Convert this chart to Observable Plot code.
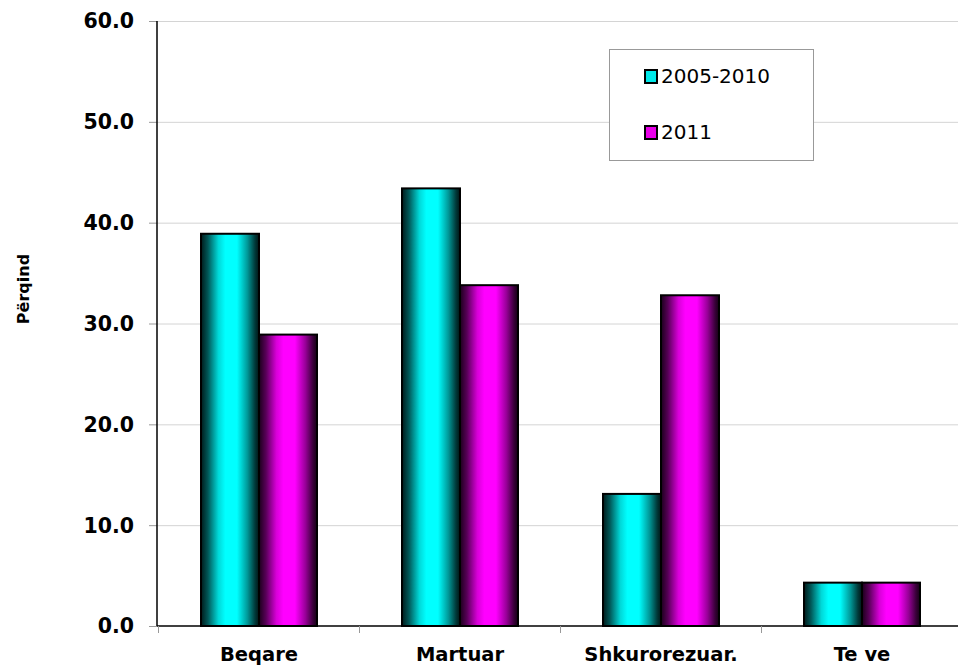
<!DOCTYPE html>
<html>
<head>
<meta charset="utf-8">
<script src="https://cdn.jsdelivr.net/npm/d3@7"></script>
<script src="https://cdn.jsdelivr.net/npm/@observablehq/plot@0.6"></script>
<style>
  html, body { margin: 0; padding: 0; background: #fff; overflow: hidden; }
  #wrap { position: relative; width: 958px; height: 665px; }
  #legend {
    position: absolute; left: 609px; top: 49px; width: 205px; height: 112px;
    border: 1px solid #999; background: #fff; box-sizing: border-box;
    font-family: "DejaVu Sans", Verdana, sans-serif; font-size: 20px; color: #000;
  }
  .li { position: absolute; left: 34px; display: flex; align-items: center; }
  .sw { width: 10px; height: 11px; border: 2px solid #000; margin-right: 3px; }
  #ylab {
    position: absolute; left: 23px; top: 289px; transform: translate(-50%, -50%) rotate(-90deg);
    font-family: "DejaVu Sans", Verdana, sans-serif; font-weight: bold; font-size: 16px; white-space: nowrap;
  }
</style>
</head>
<body>
<div id="wrap"></div>
<script>
const categories = ["Beqare", "Martuar", "Shkurorezuar.", "Te ve"];
const seriesNames = ["2005-2010", "2011"];
const values2005_2010 = [38.9, 43.4, 13.1, 4.3];
const values2011 = [28.9, 33.8, 32.8, 4.3];
const yTicks = [0, 10, 20, 30, 40, 50, 60];

const data = [];
categories.forEach((c, i) => {
  data.push({category: c, series: seriesNames[0], value: values2005_2010[i]});
  data.push({category: c, series: seriesNames[1], value: values2011[i]});
});

const chart = Plot.plot({
  width: 958,
  height: 665,
  marginLeft: 157,
  marginRight: -6,
  marginTop: 21,
  marginBottom: 39,
  style: {fontFamily: "'DejaVu Sans', Verdana, sans-serif", color: "#000", background: "transparent", overflow: "visible"},
  fx: {domain: categories, paddingInner: 0.424, paddingOuter: 0.212, label: null, axis: null},
  x: {domain: seriesNames, padding: 0, axis: null},
  y: {domain: [0, 60], ticks: yTicks, label: null, axis: null},
  marks: [
    Plot.barY(data.filter(d => d.series === seriesNames[0]), {fx: "category", x: "series", y: "value", fill: "url(#gCyan)", stroke: "#000", strokeWidth: 2}),
    Plot.barY(data.filter(d => d.series === seriesNames[1]), {fx: "category", x: "series", y: "value", fill: "url(#gMag)", stroke: "#000", strokeWidth: 2})
  ]
});

const svg = d3.select(chart.tagName.toLowerCase() === "svg" ? chart : chart.querySelector("svg"));
const defs = svg.insert("defs", ":first-child");
function grad(id, stops) {
  const g = defs.append("linearGradient").attr("id", id).attr("x1", "0").attr("x2", "1").attr("y1", "0").attr("y2", "0");
  stops.forEach(([o, c]) => g.append("stop").attr("offset", o).attr("stop-color", c));
}
grad("gCyan", [[0, "#001a1a"], [0.12, "#005858"], [0.3, "#00d8d8"], [0.42, "#00ffff"], [0.62, "#00ffff"], [0.8, "#009898"], [0.93, "#003a3a"], [1, "#001515"]]);
grad("gMag", [[0, "#1a001a"], [0.12, "#580058"], [0.3, "#d800d8"], [0.42, "#ff00ff"], [0.62, "#ff00ff"], [0.8, "#980098"], [0.93, "#3a003a"], [1, "#150015"]]);

const fx = chart.scale("fx");
const yS = chart.scale("y");
const y0 = yS.apply(0);
const left0 = 157, right0 = 964;
const fmt = d3.format(".1f");

const grid = svg.insert("g", "defs + *");
yTicks.filter(t => t > 0).forEach(t => {
  const yy = yS.apply(t) + 0.5;
  grid.append("line").attr("x1", left0).attr("x2", right0).attr("y1", yy).attr("y2", yy).attr("stroke", "#d4d4d4");
});

const g = svg.append("g").attr("font-family", "'DejaVu Sans', Verdana, sans-serif");
yTicks.forEach(t => {
  const yy = yS.apply(t);
  g.append("line").attr("x1", left0 - 8).attr("x2", left0).attr("y1", yy + 0.5).attr("y2", yy + 0.5).attr("stroke", "#999");
  g.append("text").attr("x", left0 - 23).attr("y", yy).attr("dy", "0.36em").attr("text-anchor", "end")
    .attr("font-weight", "bold").attr("font-size", 20.5).attr("fill", "#000").text(fmt(t));
});
g.append("line").attr("x1", left0).attr("x2", right0).attr("y1", y0).attr("y2", y0).attr("stroke", "#000").attr("stroke-width", 1.5);
g.append("line").attr("x1", left0).attr("x2", left0).attr("y1", yS.apply(60)).attr("y2", y0).attr("stroke", "#000").attr("stroke-width", 1.5);
categories.forEach((c, i) => {
  const center = fx.apply(c) + fx.bandwidth / 2;
  const left = center - fx.step / 2;
  g.append("line").attr("x1", left).attr("x2", left).attr("y1", y0).attr("y2", y0 + 7).attr("stroke", "#999");
  g.append("text").attr("x", center).attr("y", y0 + 35).attr("text-anchor", "middle")
    .attr("font-weight", "bold").attr("font-size", 19.5).attr("fill", "#000").text(c);
});

const wrap = document.getElementById("wrap");
wrap.appendChild(chart);

const legend = document.createElement("div");
legend.id = "legend";
const colors = ["#00e8e8", "#e800e8"];
seriesNames.forEach((s, i) => {
  const li = document.createElement("div");
  li.className = "li";
  li.style.top = (i === 0 ? 14 : 70) + "px";
  li.innerHTML = `<span class="sw" style="background:${colors[i]}"></span><span>${s}</span>`;
  legend.appendChild(li);
});
wrap.appendChild(legend);

const ylab = document.createElement("div");
ylab.id = "ylab";
ylab.textContent = "Përqind";
wrap.appendChild(ylab);
</script>
</body>
</html>
